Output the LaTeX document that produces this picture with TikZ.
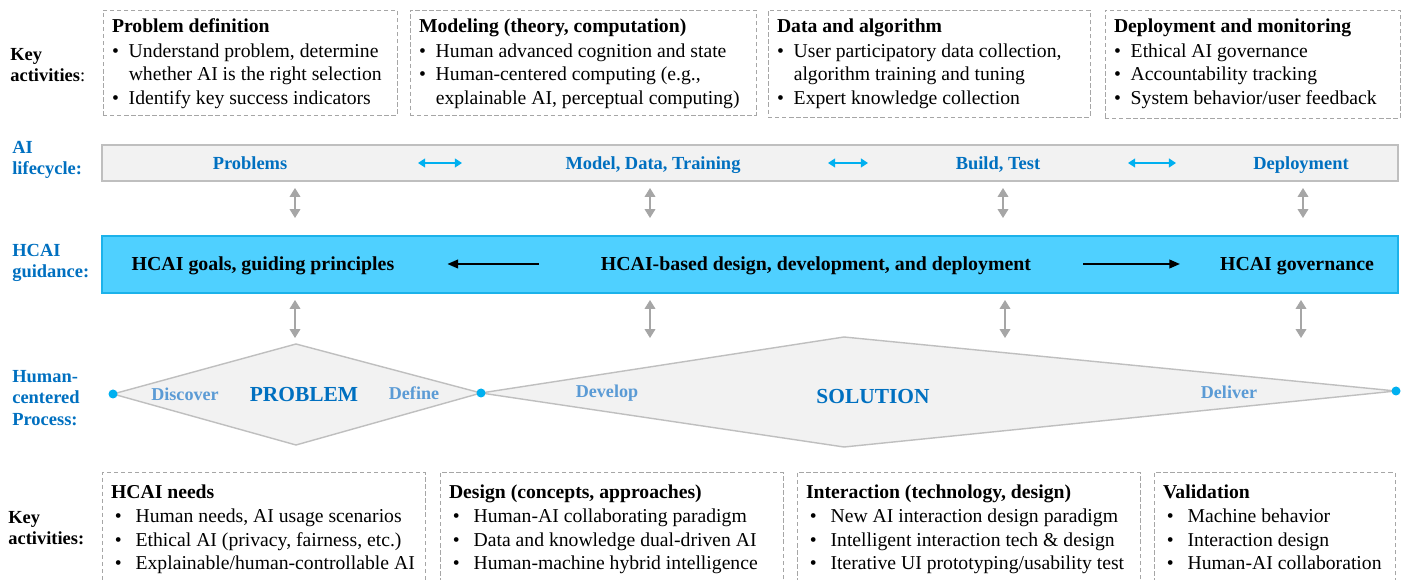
\documentclass[tikz,border=0pt]{standalone}
\usepackage{fontspec}
\setmainfont{Liberation Serif}
\usetikzlibrary{arrows.meta,positioning}
\definecolor{hblue}{HTML}{0070C0}
\definecolor{hlight}{HTML}{5B9BD5}
\definecolor{hcyan}{HTML}{00B0F0}
\definecolor{hsky}{HTML}{4FD0FF}
\definecolor{hskyline}{HTML}{1CB2EA}
\definecolor{hpanel}{HTML}{F2F2F2}
\definecolor{hgray}{HTML}{A6A6A6}
\definecolor{hedge}{HTML}{BFBFBF}
\newcommand{\bl}{\makebox[0.85em][l]{\textbullet}}
\newcommand{\ind}{\hspace*{0.85em}}
\newcommand{\wbl}{\makebox[1.25em][l]{\hspace{0.2em}\textbullet}}
\tikzset{
  actbox/.style={draw=hgray, dash pattern=on 2.5pt off 1.5pt, inner sep=0pt},
  acttext/.style={anchor=north west, inner sep=0pt, align=left, font=\fontsize{11.2}{13.4}\selectfont},
  rowlabel/.style={anchor=west, inner sep=0pt, align=left, font=\fontsize{10.5}{12.2}\selectfont\bfseries},
  lifetext/.style={text=hblue, text height=1.6ex, text depth=0.4ex, font=\fontsize{10.5}{12}\selectfont\bfseries},
  guidetext/.style={text height=1.6ex, text depth=0.4ex, font=\fontsize{11.3}{13}\selectfont\bfseries},
  stagetext/.style={text=hlight, font=\fontsize{10.3}{12}\selectfont\bfseries},
  phasetext/.style={text=hblue, font=\fontsize{12.2}{14}\selectfont\bfseries},
  updown/.style={hgray, line width=0.8pt, {Triangle[width=6pt,length=5pt]}-{Triangle[width=6pt,length=5pt]}},
  sideways/.style={hcyan, line width=0.8pt, {Triangle[width=5pt,length=4pt]}-{Triangle[width=5pt,length=4pt]}},
  flow/.style={black, line width=0.8pt, -{Triangle[width=5pt,length=6pt]}},
  tipdot/.style={fill=hcyan, draw=none}
}
\begin{document}
\begin{tikzpicture}[x=0.02cm,y=-0.02cm]
\clip (0,0) rectangle (1406,580);
\fill[white] (0,0) rectangle (1406,580);
\node[actbox, minimum width=5.88cm, minimum height=2.10cm] (act1) at (250,62.5) {};
\node[acttext] (act1t) at ([xshift=0.18cm,yshift=-0.18cm]act1.north west) {\textbf{Problem definition}\\[0.5pt]
\bl Understand problem, determine\\
\ind whether AI is the right selection\\
\bl Identify key success indicators};
\node[actbox, minimum width=6.92cm, minimum height=2.10cm] (act2) at (583,62.5) {};
\node[acttext] (act2t) at ([xshift=0.18cm,yshift=-0.18cm]act2.north west) {\textbf{Modeling (theory, computation)}\\[0.5pt]
\bl Human advanced cognition and state\\
\bl Human-centered computing (e.g.,\\
\ind explainable AI, perceptual computing)};
\node[actbox, minimum width=6.44cm, minimum height=2.14cm] (act3) at (929,63.5) {};
\node[acttext] (act3t) at ([xshift=0.18cm,yshift=-0.18cm]act3.north west) {\textbf{Data and algorithm}\\[0.5pt]
\bl User participatory data collection,\\
\ind algorithm training and tuning\\
\bl Expert knowledge collection};
\node[actbox, minimum width=5.90cm, minimum height=2.16cm] (act4) at (1252.5,64) {};
\node[acttext] (act4t) at ([xshift=0.18cm,yshift=-0.18cm]act4.north west) {\textbf{Deployment and monitoring}\\[0.5pt]
\bl Ethical AI governance\\
\bl Accountability tracking\\
\bl System behavior/user feedback};
\node[rowlabel] (keytop) at (10,65) {Key\\activities\textmd{:}};
\node[rowlabel, text=hblue] (lifelab) at (12,160) {AI\\lifecycle:};
\node[rowlabel, text=hblue] (guidelab) at (12,263) {HCAI\\guidance:};
\node[rowlabel, text=hblue] (proclab) at (12,398) {Human-\\centered\\Process:};
\node[rowlabel] (keybot) at (8,528) {Key\\activities:};
\node[draw=hedge, fill=hpanel, line width=0.8pt, minimum width=25.92cm, minimum height=0.72cm, inner sep=0pt] (life) at (750,163) {};
\node[lifetext] (problems) at (250,165) {Problems};
\node[lifetext] (model) at (653,165) {Model, Data, Training};
\node[lifetext] (build) at (998,165) {Build, Test};
\node[lifetext] (deploy) at (1301,165) {Deployment};
\foreach \n/\a/\b in {1/418/462,2/828/868,3/1128/1176}{
  \coordinate (l\n) at (\a,163);
  \coordinate (r\n) at (\b,163);
  \draw[sideways] (l\n) -- (r\n);
}
\node[draw=hskyline, fill=hsky, line width=0.8pt, minimum width=25.92cm, minimum height=1.14cm, inner sep=0pt] (guide) at (750,264.5) {};
\node[guidetext] (goals) at (263,266) {HCAI goals, guiding principles};
\node[guidetext] (design) at (816,266) {HCAI-based design, development, and deployment};
\node[guidetext] (gov) at (1297,266) {HCAI governance};
\draw[flow] ([xshift=-1.12cm,yshift=0.04cm]design.west) -- ([xshift=0.94cm,yshift=0.04cm]goals.east);
\draw[flow] ([xshift=0.92cm,yshift=0.04cm]design.east) -- ([xshift=-0.68cm,yshift=0.04cm]gov.west);
\foreach \n/\x/\y in {1/295/295,2/650/650,3/1003/1005,4/1303/1301}{
  \coordinate (ua\n) at (\x,188);
  \coordinate (ub\n) at (\x,218);
  \draw[updown] (ua\n) -- (ub\n);
  \coordinate (da\n) at (\y,300);
  \coordinate (db\n) at (\y,338);
  \draw[updown] (da\n) -- (db\n);
}
\coordinate (pl) at (113,394);
\coordinate (pt) at (296,344);
\coordinate (pr) at (481,393);
\coordinate (pb) at (296,445);
\coordinate (st) at (844,337);
\coordinate (sr) at (1396,391);
\coordinate (sb) at (844,447);
\draw[draw=hedge, fill=hpanel, line width=0.8pt] (pl) -- (pt) -- (pr) -- (pb) -- cycle;
\draw[draw=hedge, fill=hpanel, line width=0.8pt] (pr) -- (st) -- (sr) -- (sb) -- cycle;
\foreach \p in {pl,pr,sr}
  \fill[tipdot] (\p) circle (4.5);
\node[stagetext] (discover) at (185,394) {Discover};
\node[phasetext] (problem) at (304,395) {PROBLEM};
\node[stagetext] (define) at (414,393) {Define};
\node[stagetext] (develop) at (607,393) {Develop};
\node[phasetext] (solution) at (873,397) {SOLUTION};
\node[stagetext] (deliver) at (1229,392) {Deliver};
\node[actbox, minimum width=6.46cm, minimum height=2.30cm] (act5) at (263.5,530) {};
\node[acttext] (act5t) at ([xshift=0.18cm,yshift=-0.24cm]act5.north west) {\textbf{HCAI needs}\\[0.6pt]
\wbl Human needs, AI usage scenarios\\
\wbl Ethical AI (privacy, fairness, etc.)\\
\wbl Explainable/human-controllable AI};
\node[actbox, minimum width=6.86cm, minimum height=2.30cm] (act6) at (611.5,530) {};
\node[acttext] (act6t) at ([xshift=0.18cm,yshift=-0.24cm]act6.north west) {\textbf{Design (concepts, approaches)}\\[0.6pt]
\wbl Human-AI collaborating paradigm\\
\wbl Data and knowledge dual-driven AI\\
\wbl Human-machine hybrid intelligence};
\node[actbox, minimum width=6.86cm, minimum height=2.30cm] (act7) at (968.5,530) {};
\node[acttext] (act7t) at ([xshift=0.18cm,yshift=-0.24cm]act7.north west) {\textbf{Interaction (technology, design)}\\[0.6pt]
\wbl New AI interaction design paradigm\\
\wbl Intelligent interaction tech \& design\\
\wbl Iterative UI prototyping/usability test};
\node[actbox, minimum width=4.82cm, minimum height=2.30cm] (act8) at (1274.5,530) {};
\node[acttext] (act8t) at ([xshift=0.18cm,yshift=-0.24cm]act8.north west) {\textbf{Validation}\\[0.6pt]
\wbl Machine behavior\\
\wbl Interaction design\\
\wbl Human-AI collaboration};
\end{tikzpicture}
\end{document}
